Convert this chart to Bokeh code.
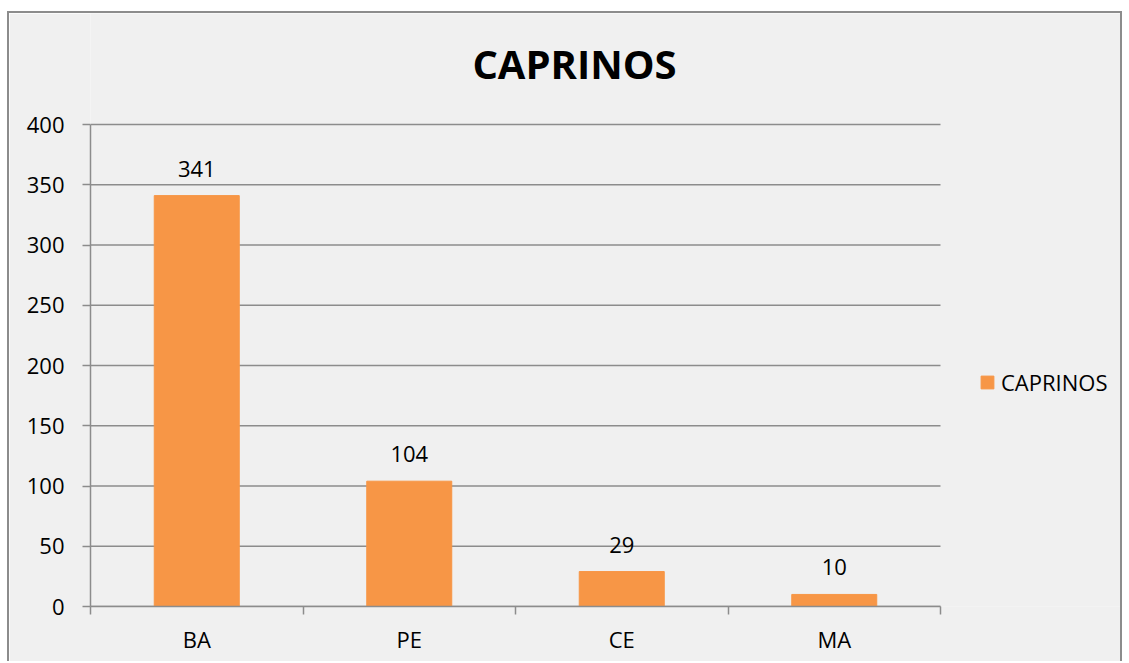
from bokeh.plotting import figure
from bokeh.models import ColumnDataSource, FixedTicker, Legend, LegendItem, Label, Range1d
from bokeh.embed import file_html
from bokeh.resources import INLINE

categories = ["BA", "PE", "CE", "MA"]
values = [341, 104, 29, 10]
series_name = "CAPRINOS"
y_ticks = [0, 50, 100, 150, 200, 250, 300, 350, 400]

n = len(categories)
y_max = y_ticks[-1]
xs = [i + 0.5 for i in range(n)]
src = ColumnDataSource(dict(x=xs, top=values, label=[str(v) for v in values]))
grid_src = ColumnDataSource(dict(y=y_ticks, x0=[0] * len(y_ticks), x1=[n] * len(y_ticks)))

FONT = "Open Sans"
BG = "#F0F0F0"
GRID = "#8C8C8C"
BAR = "#F79646"

W, H = 1115, 650
LEFT, BOTTOM = 81, 57
CHART_W, CHART_H = 850, 482     # pixel size of the actual plotting area
FRAME_W = W - LEFT              # frame extends right (legend) and up (title)
FRAME_H = H - BOTTOM
x_end = n * FRAME_W / CHART_W
y_end = y_max * FRAME_H / CHART_H

p = figure(width=W, height=H, output_backend="svg", toolbar_location=None,
           x_range=Range1d(0, x_end), y_range=Range1d(0, y_end),
           min_border_left=LEFT, min_border_right=0, min_border_top=0, min_border_bottom=BOTTOM,
           background_fill_color=BG, border_fill_color=BG, outline_line_color=None,
           styles={"border-left": "2px solid #8C8C8C", "border-top": "2px solid #8C8C8C",
                   "border-right": "2px solid #8C8C8C", "margin-top": "11px", "margin-left": "7px"})
p.title = None

title = Label(x=484, y=543, x_units="screen", y_units="screen", text=series_name,
              text_align="center", text_baseline="middle", text_font=FONT,
              text_font_size="40px", text_font_style="bold", text_color="black")
p.add_layout(title)

# horizontal gridlines
p.segment(x0="x0", x1="x1", y0="y", y1="y", source=grid_src, line_color=GRID, line_width=1.5)

r = p.vbar(x="x", top="top", width=0.4, bottom=0, source=src, color=BAR)
p.text(x="x", y="top", text="label", source=src, text_align="center", text_baseline="bottom",
       y_offset=-19, text_font_size="22px", text_font={"value": FONT}, text_color="black")

# y axis
p.yaxis.ticker = FixedTicker(ticks=y_ticks)
p.yaxis.bounds = (0, y_max)
p.yaxis.axis_line_color = GRID
p.yaxis.axis_line_width = 1.5
p.yaxis.major_tick_line_color = GRID
p.yaxis.major_tick_line_width = 1.5
p.yaxis.major_tick_out = 8
p.yaxis.major_tick_in = 0
p.yaxis.minor_tick_line_color = None
p.yaxis.major_label_text_font = FONT
p.yaxis.major_label_text_font_size = "22px"
p.yaxis.major_label_text_color = "black"
p.yaxis.major_label_standoff = 18

# x axis
p.xaxis.ticker = FixedTicker(ticks=xs, minor_ticks=list(range(n + 1)))
p.xaxis.bounds = (0, n)
p.xaxis.major_label_overrides = {x: c for x, c in zip(xs, categories)}
p.xaxis.axis_line_color = GRID
p.xaxis.axis_line_width = 1.5
p.xaxis.major_tick_line_color = None
p.xaxis.minor_tick_line_color = GRID
p.xaxis.minor_tick_line_width = 1.5
p.xaxis.minor_tick_out = 8
p.xaxis.minor_tick_in = 0
p.xaxis.major_label_text_font = FONT
p.xaxis.major_label_text_font_size = "22px"
p.xaxis.major_label_text_color = "black"
p.xaxis.major_label_standoff = 9

p.xgrid.grid_line_color = None
p.ygrid.grid_line_color = None

legend = Legend(items=[LegendItem(label=series_name, renderers=[r])], location=(889, 209),
                label_text_font=FONT, label_text_font_size="22px", label_text_color="black",
                glyph_width=16, glyph_height=16, label_standoff=6,
                background_fill_alpha=0, border_line_color=None,
                margin=0, padding=0)
p.add_layout(legend)

open("out.html", "w").write(file_html(p, INLINE))
